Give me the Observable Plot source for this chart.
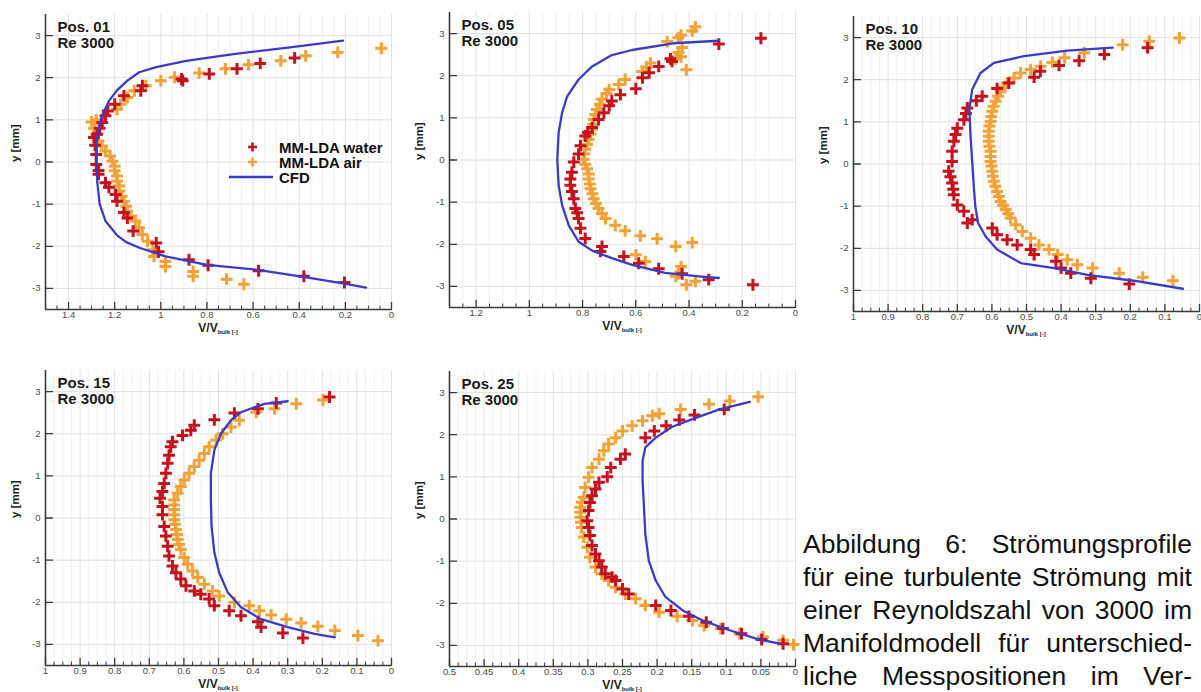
<!DOCTYPE html>
<html><head><meta charset="utf-8">
<script src="https://cdn.jsdelivr.net/npm/d3@7"></script>
<script src="https://cdn.jsdelivr.net/npm/@observablehq/plot@0.6"></script>
<style>
html,body{margin:0;padding:0;background:#fff;width:1201px;height:692px;overflow:hidden;font-family:"Liberation Sans",Arial,Helvetica,sans-serif;}
.panel{position:absolute;}
.xlab{position:absolute;text-align:center;font-weight:bold;font-size:12px;line-height:12px;color:#222;white-space:nowrap;}
.xlab sub{font-size:6px;vertical-align:-2px;font-weight:bold;}
.legend{position:absolute;left:0;top:0;font-weight:bold;font-size:15px;color:#111;}
.legend .row{position:absolute;white-space:nowrap;line-height:15px;}
.caption{position:absolute;left:803px;top:528px;width:389px;font-size:26.5px;color:#111;}
.caption .line{display:flex;justify-content:space-between;height:33px;line-height:33px;white-space:nowrap;}
</style>
</head><body>
<div id="root"></div>
<script>
// ---------------- data (V/V_bulk, y [mm]) ----------------
const yTicks = [-3, -2, -1, 0, 1, 2, 3];
const pos01Ticks = [1.4, 1.2, 1, 0.8, 0.6, 0.4, 0.2, 0];
const pos05Ticks = [1.2, 1, 0.8, 0.6, 0.4, 0.2, 0];
const pos10Ticks = [1, 0.9, 0.8, 0.7, 0.6, 0.5, 0.4, 0.3, 0.2, 0.1, 0];
const pos15Ticks = [1, 0.9, 0.8, 0.7, 0.6, 0.5, 0.4, 0.3, 0.2, 0.1, 0];
const pos25Ticks = [0.5, 0.45, 0.4, 0.35, 0.3, 0.25, 0.2, 0.15, 0.1, 0.05, 0];
const seriesNames = ["MM-LDA water", "MM-LDA air", "CFD"];

const pos01_cfd = [[0.11,-2.98],[0.21,-2.88],[0.39,-2.72],[0.58,-2.56],[0.80,-2.44],[0.98,-2.24],[1.09,-2.04],[1.15,-1.90],[1.19,-1.74],[1.24,-1.40],[1.265,-1.0],[1.275,-0.5],[1.28,0],[1.276,0.6],[1.255,1.1],[1.225,1.45],[1.19,1.70],[1.145,1.93],[1.094,2.13],[1.02,2.25],[0.89,2.40],[0.685,2.56],[0.44,2.72],[0.21,2.88]];
const pos01_water = [[0.42,2.47],[0.569,2.34],[0.67,2.21],[0.79,2.09],[0.91,1.97],[0.905,1.93],[1.08,1.81],[1.087,1.69],[1.16,1.57],[1.20,1.37],[1.23,1.21],[1.24,1.10],[1.254,0.94],[1.265,0.80],[1.276,0.66],[1.29,0.58],[1.285,0.40],[1.28,0.18],[1.28,-0.06],[1.27,-0.20],[1.27,-0.29],[1.24,-0.49],[1.225,-0.60],[1.196,-0.77],[1.19,-0.93],[1.16,-1.20],[1.145,-1.33],[1.12,-1.64],[1.02,-1.92],[1.01,-2.13],[0.878,-2.32],[0.795,-2.45],[0.576,-2.58],[0.38,-2.71],[0.204,-2.86]];
const pos01_air = [[0.044,2.70],[0.233,2.60],[0.372,2.52],[0.48,2.40],[0.62,2.31],[0.72,2.21],[0.834,2.11],[0.94,2.01],[1.0,1.93],[1.065,1.81],[1.115,1.69],[1.145,1.53],[1.174,1.37],[1.19,1.25],[1.28,1.0],[1.30,0.95],[1.29,0.80],[1.28,0.65],[1.27,0.5],[1.255,0.38],[1.24,0.26],[1.22,0.14],[1.21,0.02],[1.20,-0.1],[1.20,-0.21],[1.19,-0.33],[1.19,-0.45],[1.18,-0.57],[1.18,-0.69],[1.17,-0.81],[1.16,-0.93],[1.15,-1.05],[1.145,-1.17],[1.13,-1.28],[1.11,-1.40],[1.094,-1.56],[1.08,-1.72],[1.057,-1.88],[1.035,-2.08],[1.03,-2.24],[0.98,-2.36],[0.98,-2.48],[0.86,-2.60],[0.86,-2.71],[0.715,-2.78],[0.64,-2.9]];

const pos05_cfd = [[0.288,-2.80],[0.363,-2.76],[0.49,-2.68],[0.614,-2.49],[0.69,-2.33],[0.764,-2.15],[0.815,-1.94],[0.852,-1.55],[0.877,-1.07],[0.89,-0.6],[0.895,0],[0.89,0.65],[0.877,1.12],[0.858,1.51],[0.815,1.91],[0.764,2.22],[0.69,2.49],[0.614,2.61],[0.46,2.77],[0.288,2.83]];
const pos05_water = [[0.13,2.89],[0.288,2.75],[0.464,2.34],[0.47,2.40],[0.514,2.22],[0.55,2.07],[0.575,1.95],[0.60,1.69],[0.658,1.55],[0.69,1.40],[0.70,1.29],[0.72,1.12],[0.74,0.96],[0.764,0.77],[0.78,0.65],[0.79,0.57],[0.808,0.34],[0.815,0.14],[0.833,-0.05],[0.84,-0.29],[0.846,-0.45],[0.846,-0.60],[0.84,-0.75],[0.833,-0.92],[0.827,-1.15],[0.82,-1.25],[0.815,-1.39],[0.808,-1.62],[0.79,-1.86],[0.727,-2.05],[0.733,-2.17],[0.645,-2.29],[0.589,-2.45],[0.514,-2.58],[0.426,-2.70],[0.326,-2.84],[0.16,-2.96]];
const pos05_air = [[0.376,3.16],[0.388,3.06],[0.43,2.96],[0.44,2.90],[0.482,2.81],[0.426,2.67],[0.44,2.55],[0.43,2.45],[0.45,2.40],[0.41,2.14],[0.545,2.30],[0.56,2.20],[0.576,2.10],[0.64,1.91],[0.664,1.79],[0.70,1.67],[0.71,1.58],[0.727,1.44],[0.735,1.32],[0.746,1.20],[0.752,1.08],[0.758,0.96],[0.76,0.85],[0.764,0.73],[0.77,0.61],[0.777,0.49],[0.783,0.37],[0.79,0.26],[0.793,0.14],[0.796,0.02],[0.79,-0.10],[0.783,-0.21],[0.777,-0.33],[0.777,-0.45],[0.773,-0.57],[0.77,-0.68],[0.763,-0.80],[0.758,-0.92],[0.75,-1.03],[0.74,-1.15],[0.727,-1.27],[0.714,-1.39],[0.677,-1.55],[0.64,-1.68],[0.583,-1.80],[0.52,-1.87],[0.45,-2.05],[0.388,-1.96],[0.60,-2.25],[0.564,-2.41],[0.43,-2.53],[0.44,-2.70],[0.45,-2.76],[0.376,-2.88],[0.41,-2.96]];

const pos10_cfd = [[0.048,-2.96],[0.19,-2.77],[0.324,-2.63],[0.42,-2.47],[0.517,-2.35],[0.585,-2.03],[0.618,-1.72],[0.64,-1.40],[0.648,-1.0],[0.652,-0.57],[0.657,0.06],[0.662,0.70],[0.665,1.3],[0.657,1.77],[0.633,2.16],[0.594,2.40],[0.507,2.56],[0.382,2.69],[0.251,2.76]];
const pos10_water = [[0.15,2.76],[0.275,2.60],[0.348,2.45],[0.406,2.34],[0.46,2.20],[0.478,2.06],[0.551,1.92],[0.585,1.79],[0.628,1.61],[0.645,1.50],[0.671,1.33],[0.675,1.20],[0.681,1.05],[0.70,0.85],[0.705,0.70],[0.71,0.54],[0.715,0.30],[0.715,0.06],[0.725,-0.17],[0.72,-0.30],[0.715,-0.45],[0.712,-0.60],[0.71,-0.73],[0.70,-0.97],[0.681,-1.12],[0.657,-1.32],[0.671,-1.40],[0.599,-1.52],[0.585,-1.68],[0.556,-1.80],[0.527,-1.92],[0.488,-2.03],[0.478,-2.15],[0.415,-2.31],[0.40,-2.47],[0.372,-2.59],[0.314,-2.71],[0.203,-2.85]];
const pos10_air = [[0.058,2.99],[0.145,2.91],[0.222,2.83],[0.333,2.64],[0.39,2.52],[0.425,2.41],[0.459,2.32],[0.488,2.24],[0.517,2.16],[0.536,2.04],[0.556,1.92],[0.565,1.82],[0.575,1.73],[0.582,1.61],[0.589,1.49],[0.595,1.37],[0.599,1.25],[0.602,1.13],[0.604,1.01],[0.607,0.90],[0.609,0.78],[0.609,0.66],[0.609,0.54],[0.607,0.42],[0.604,0.30],[0.604,0.18],[0.604,0.06],[0.601,-0.05],[0.599,-0.17],[0.597,-0.29],[0.594,-0.41],[0.59,-0.53],[0.585,-0.65],[0.58,-0.77],[0.575,-0.89],[0.568,-0.98],[0.56,-1.08],[0.553,-1.18],[0.546,-1.28],[0.531,-1.44],[0.512,-1.60],[0.488,-1.76],[0.464,-1.92],[0.435,-2.03],[0.41,-2.15],[0.382,-2.27],[0.353,-2.39],[0.309,-2.47],[0.232,-2.59],[0.164,-2.69],[0.077,-2.77]];

const pos15_cfd = [[0.164,-2.83],[0.222,-2.75],[0.30,-2.59],[0.377,-2.40],[0.435,-2.12],[0.473,-1.77],[0.498,-1.30],[0.512,-0.82],[0.52,-0.20],[0.522,0.43],[0.522,1.06],[0.512,1.61],[0.493,2.0],[0.464,2.32],[0.435,2.51],[0.367,2.71],[0.30,2.77]];
const pos15_water = [[0.179,2.87],[0.333,2.73],[0.386,2.59],[0.454,2.49],[0.512,2.33],[0.57,2.20],[0.58,2.08],[0.604,1.96],[0.633,1.81],[0.638,1.69],[0.643,1.49],[0.647,1.30],[0.652,1.06],[0.657,0.82],[0.662,0.63],[0.669,0.47],[0.662,0.27],[0.662,0.08],[0.657,-0.20],[0.652,-0.43],[0.647,-0.67],[0.643,-0.90],[0.633,-1.14],[0.623,-1.30],[0.609,-1.45],[0.594,-1.61],[0.57,-1.73],[0.551,-1.81],[0.527,-1.92],[0.512,-2.08],[0.469,-2.20],[0.435,-2.32],[0.386,-2.46],[0.377,-2.59],[0.314,-2.73],[0.256,-2.85]];
const pos15_air = [[0.198,2.80],[0.275,2.71],[0.338,2.59],[0.391,2.51],[0.44,2.32],[0.464,2.16],[0.488,2.0],[0.507,1.85],[0.527,1.69],[0.541,1.53],[0.556,1.37],[0.57,1.22],[0.585,1.06],[0.599,0.90],[0.609,0.75],[0.618,0.59],[0.628,0.43],[0.628,0.31],[0.628,0.20],[0.628,0.08],[0.628,-0.04],[0.625,-0.15],[0.623,-0.27],[0.62,-0.39],[0.618,-0.51],[0.614,-0.63],[0.609,-0.75],[0.599,-0.94],[0.589,-1.10],[0.575,-1.26],[0.56,-1.41],[0.541,-1.57],[0.517,-1.73],[0.498,-1.85],[0.454,-2.00],[0.411,-2.08],[0.382,-2.20],[0.348,-2.30],[0.304,-2.40],[0.261,-2.49],[0.213,-2.57],[0.164,-2.67],[0.097,-2.79],[0.039,-2.91]];

const pos25_cfd = [[0.023,-2.96],[0.057,-2.84],[0.095,-2.64],[0.134,-2.41],[0.163,-2.17],[0.188,-1.85],[0.202,-1.46],[0.212,-0.99],[0.217,-0.36],[0.219,0.28],[0.221,0.91],[0.221,1.38],[0.217,1.70],[0.202,1.93],[0.178,2.19],[0.149,2.37],[0.11,2.60],[0.066,2.78]];
const pos25_water = [[0.103,2.60],[0.146,2.47],[0.168,2.35],[0.187,2.21],[0.204,2.09],[0.217,1.93],[0.246,1.54],[0.253,1.42],[0.267,1.22],[0.272,1.00],[0.284,0.87],[0.289,0.71],[0.294,0.55],[0.297,0.39],[0.299,0.20],[0.301,-0.04],[0.299,-0.20],[0.297,-0.39],[0.294,-0.63],[0.289,-0.83],[0.284,-0.99],[0.28,-1.14],[0.275,-1.30],[0.265,-1.38],[0.26,-1.46],[0.25,-1.66],[0.241,-1.78],[0.202,-2.05],[0.18,-2.17],[0.154,-2.31],[0.129,-2.45],[0.105,-2.60],[0.078,-2.72],[0.049,-2.86],[0.018,-2.96]];
const pos25_air = [[0.054,2.90],[0.095,2.80],[0.125,2.72],[0.166,2.60],[0.197,2.50],[0.207,2.45],[0.221,2.33],[0.236,2.21],[0.25,2.09],[0.26,1.93],[0.27,1.78],[0.277,1.62],[0.284,1.42],[0.294,1.22],[0.299,0.99],[0.304,0.75],[0.306,0.51],[0.309,0.40],[0.311,0.28],[0.311,0.16],[0.311,0.04],[0.31,-0.08],[0.309,-0.20],[0.306,-0.43],[0.301,-0.67],[0.297,-0.91],[0.289,-1.14],[0.28,-1.30],[0.27,-1.46],[0.26,-1.62],[0.246,-1.78],[0.231,-1.89],[0.217,-2.05],[0.197,-2.21],[0.171,-2.31],[0.149,-2.41],[0.132,-2.53],[0.108,-2.60],[0.081,-2.72],[0.047,-2.80],[0.018,-2.88],[0.003,-2.98]];

const captionLines = [
  "Abbildung 6: Strömungsprofile",
  "für eine turbulente Strömung mit",
  "einer Reynoldszahl von 3000 im",
  "Manifoldmodell für unterschied-",
  "liche Messpositionen im Ver-"
];

// ---------------- rendering ----------------
const WATER = "#c5131e", AIR = "#f4a236", CFD_C = "#3b3bc6";
const AXIS_C = "#3a3a3a";
const toPts = a => a.map(([v, y]) => ({v, y}));
const tickShape = {draw(ctx, l) { ctx.moveTo(0, 0); ctx.lineTo(0, -l); }};

const panels = [
  {title: "Pos. 01\nRe 3000", domain: [1.5, 0], ticks: pos01Ticks, water: pos01_water, air: pos01_air, cfd: pos01_cfd, left: 0, top: 2},
  {title: "Pos. 05\nRe 3000", domain: [1.3, 0], ticks: pos05Ticks, water: pos05_water, air: pos05_air, cfd: pos05_cfd, left: 404, top: 0},
  {title: "Pos. 10\nRe 3000", domain: [1, 0], ticks: pos10Ticks, water: pos10_water, air: pos10_air, cfd: pos10_cfd, left: 808, top: 4},
  {title: "Pos. 15\nRe 3000", domain: [1, 0], ticks: pos15Ticks, water: pos15_water, air: pos15_air, cfd: pos15_cfd, left: 0, top: 358},
  {title: "Pos. 25\nRe 3000", domain: [0.5, 0], ticks: pos25Ticks, water: pos25_water, air: pos25_air, cfd: pos25_cfd, left: 404, top: 359}
];

const W = 394, H = 337, mL = 45, mR = 3, mT = 12, mB = 30;
const root = document.getElementById("root");

for (const p of panels) {
  const step = Math.abs(p.ticks[0] - p.ticks[1]);
  const minor = d3.range(0, p.domain[0] + 1e-9, step / 4)
    .filter(v => !p.ticks.some(t => Math.abs(t - v) < 1e-9));
  const chart = Plot.plot({
    width: W, height: H,
    marginLeft: mL, marginRight: mR, marginTop: mT, marginBottom: mB,
    x: {domain: p.domain},
    y: {domain: [-3.5, 3.5]},
    style: {fontFamily: '"Liberation Sans", Arial, sans-serif', fontSize: "9.5px", background: "transparent", overflow: "visible"},
    marks: [
      Plot.gridX(minor, {stroke: "#f1f1f1", strokeOpacity: 1}),
      Plot.gridX(p.ticks, {stroke: "#e2e2e2", strokeOpacity: 1}),
      Plot.gridY(yTicks, {stroke: "#e2e2e2", strokeOpacity: 1}),
      Plot.ruleY([-3.5], {stroke: AXIS_C, strokeWidth: 1.6}),
      Plot.ruleX([p.domain[0]], {stroke: AXIS_C, strokeWidth: 1.6}),
      Plot.vector(p.ticks, {x: d => d, frameAnchor: "bottom", length: 7, rotate: 0, anchor: "start", shape: tickShape, stroke: AXIS_C, strokeWidth: 1.3}),
      Plot.vector(minor, {x: d => d, frameAnchor: "bottom", length: 3.5, rotate: 0, anchor: "start", shape: tickShape, stroke: AXIS_C, strokeWidth: 1}),
      Plot.vector(yTicks, {y: d => d, frameAnchor: "left", length: 7, rotate: 90, anchor: "start", shape: tickShape, stroke: AXIS_C, strokeWidth: 1.3}),
      Plot.axisX(p.ticks, {tickSize: 0, tickPadding: 2, tickFormat: d => String(d), fill: "#4a4a4a", fontSize: 9.5, label: null}),
      Plot.axisY(yTicks, {tickSize: 0, tickPadding: 5, tickFormat: d => String(d), fill: "#4a4a4a", fontSize: 9.5, label: null}),
      Plot.text(["y [mm]"], {frameAnchor: "left", rotate: -90, dx: -30, text: d => d, fontWeight: "bold", fontSize: 11.5, fill: "#222"}),
      Plot.text([p.title], {frameAnchor: "top-left", dx: 12, dy: 6, text: d => d, textAnchor: "start", fontWeight: "bold", fontSize: 15, lineHeight: 1.07, fill: "#1a1a1a"}),
      Plot.dot(toPts(p.air), {x: "v", y: "y", symbol: "plus", r: 3.9, stroke: AIR, strokeWidth: 3}),
      Plot.dot(toPts(p.water), {x: "v", y: "y", symbol: "plus", r: 3.9, stroke: WATER, strokeWidth: 3}),
      Plot.line(toPts(p.cfd), {x: "v", y: "y", stroke: CFD_C, strokeWidth: 2.3})
    ]
  });
  const div = document.createElement("div");
  div.className = "panel";
  div.style.left = p.left + "px";
  div.style.top = p.top + "px";
  div.style.width = W + "px";
  div.style.height = H + "px";
  div.appendChild(chart);
  const xl = document.createElement("div");
  xl.className = "xlab";
  xl.style.left = mL + "px";
  xl.style.width = (W - mL - mR) + "px";
  xl.style.top = (H - mB + 13) + "px";
  xl.innerHTML = "V/V<sub>bulk [-]</sub>";
  div.appendChild(xl);
  root.appendChild(div);
}

// legend (panel Pos. 01)
const lg = document.createElement("div");
lg.className = "legend";
const legendColors = [WATER, AIR, CFD_C];
seriesNames.forEach((name, i) => {
  const cy = 147 + i * 15;
  const sym = document.createElementNS("http://www.w3.org/2000/svg", "svg");
  sym.setAttribute("width", 50); sym.setAttribute("height", 14);
  sym.style.position = "absolute"; sym.style.left = "228px"; sym.style.top = (cy - 7) + "px";
  if (i < 2) {
    sym.innerHTML = `<path d="M24.5,2.5V11.5M20,7H29" stroke="${legendColors[i]}" stroke-width="2.6" fill="none"/>`;
  } else {
    sym.innerHTML = `<path d="M1,7H45" stroke="${legendColors[i]}" stroke-width="2.4" fill="none"/>`;
  }
  lg.appendChild(sym);
  const t = document.createElement("div");
  t.className = "row";
  t.style.left = "279px"; t.style.top = (cy - 7.5) + "px";
  t.textContent = name;
  lg.appendChild(t);
});
root.appendChild(lg);

// caption
const cap = document.createElement("div");
cap.className = "caption";
for (const line of captionLines) {
  const l = document.createElement("div");
  l.className = "line";
  for (const w of line.split(" ")) {
    const s = document.createElement("span");
    s.textContent = w;
    l.appendChild(s);
  }
  cap.appendChild(l);
}
root.appendChild(cap);
</script>
</body></html>
